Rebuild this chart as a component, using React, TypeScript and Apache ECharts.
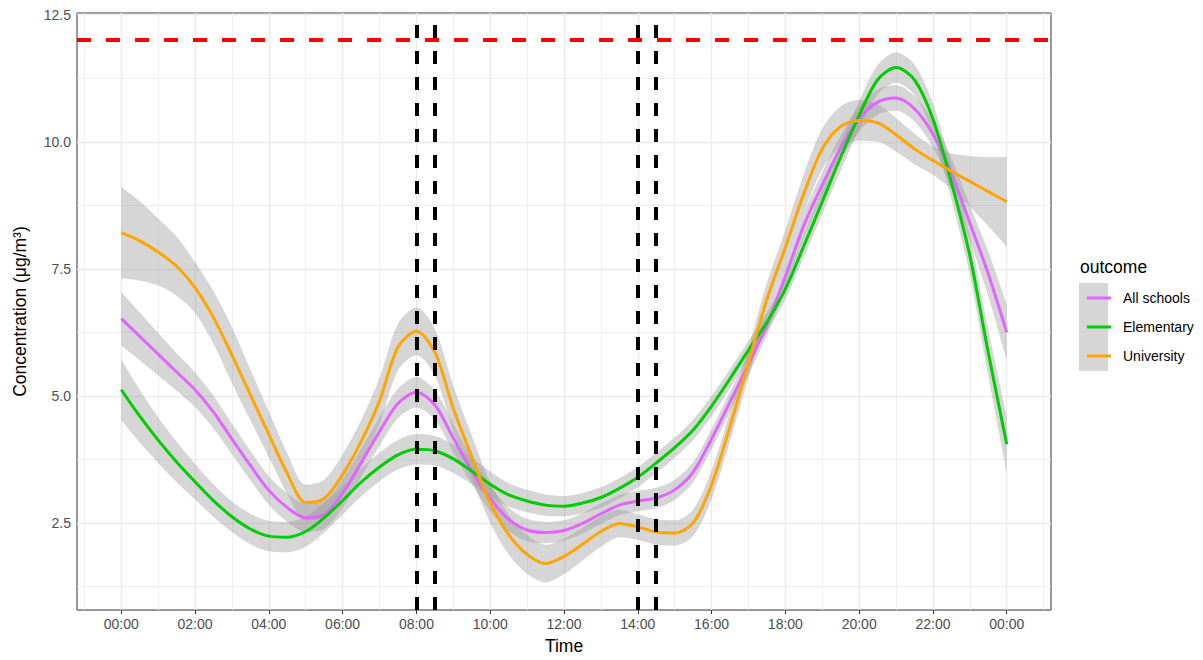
import React, { useEffect, useRef } from "react";
import * as echarts from "echarts";

// ---- data (every half hour) ----
const hours = [
  0, 0.5, 1, 1.5, 2, 2.5, 3, 3.5, 4, 4.5, 5, 5.5, 6, 6.5, 7, 7.5, 8, 8.5, 9, 9.5, 10, 10.5, 11, 11.5,
  12, 12.5, 13, 13.5, 14, 14.5, 15, 15.5, 16, 16.5, 17, 17.5, 18, 18.5, 19, 19.5, 20, 20.5, 21, 21.5,
  22, 22.5, 23, 23.5, 24,
];

const allSchools = [
  6.52, 6.17, 5.82, 5.47, 5.12, 4.68, 4.15, 3.63, 3.14, 2.8, 2.6, 2.66, 3.08, 3.68, 4.3, 4.85, 5.07, 4.82,
  4.17, 3.52, 2.98, 2.57, 2.36, 2.31, 2.35, 2.49, 2.68, 2.85, 2.93, 2.99, 3.15, 3.5, 4.15, 4.88, 5.62, 6.4,
  7.35, 8.35, 9.15, 9.88, 10.45, 10.78, 10.86, 10.65, 10.15, 9.38, 8.4, 7.4, 6.25,
];
const allSchoolsSe = [
  0.53, 0.47, 0.42, 0.37, 0.34, 0.32, 0.3, 0.29, 0.28, 0.28, 0.28, 0.28, 0.28, 0.28, 0.28, 0.29, 0.3, 0.29,
  0.28, 0.26, 0.25, 0.23, 0.22, 0.21, 0.2, 0.2, 0.2, 0.2, 0.2, 0.2, 0.2, 0.2, 0.2, 0.2, 0.2, 0.21,
  0.22, 0.24, 0.25, 0.25, 0.25, 0.25, 0.25, 0.25, 0.26, 0.3, 0.35, 0.44, 0.55,
];

const elementary = [
  5.12, 4.6, 4.13, 3.7, 3.31, 2.94, 2.62, 2.38, 2.24, 2.22, 2.33, 2.6, 2.94, 3.3, 3.6, 3.84, 3.95, 3.92,
  3.76, 3.52, 3.26, 3.05, 2.93, 2.85, 2.83, 2.89, 3.0, 3.18, 3.4, 3.68, 3.98, 4.33, 4.8, 5.34, 5.9, 6.45,
  7.1, 7.95, 8.82, 9.7, 10.52, 11.22, 11.46, 11.22, 10.45, 9.2, 7.76, 5.85, 4.05,
];
const elementarySe = [
  0.6, 0.52, 0.45, 0.4, 0.35, 0.32, 0.3, 0.3, 0.3, 0.3, 0.3, 0.29, 0.28, 0.28, 0.28, 0.29, 0.3, 0.29,
  0.28, 0.26, 0.25, 0.23, 0.22, 0.21, 0.2, 0.2, 0.2, 0.2, 0.2, 0.2, 0.2, 0.2, 0.2, 0.19, 0.18, 0.19,
  0.2, 0.22, 0.25, 0.27, 0.28, 0.29, 0.3, 0.3, 0.3, 0.33, 0.38, 0.46, 0.55,
];

const university = [
  8.21, 8.05, 7.83, 7.55, 7.13, 6.54, 5.8, 5.02, 4.24, 3.47, 2.9, 2.98, 3.45, 4.1, 4.9, 5.96, 6.27, 5.86,
  4.75, 3.8, 2.9, 2.27, 1.88, 1.7, 1.84, 2.08, 2.33, 2.49, 2.42, 2.32, 2.3, 2.5, 3.25, 4.4, 5.65, 6.9,
  7.92, 8.98, 9.86, 10.3, 10.42, 10.37, 10.14, 9.86, 9.63, 9.42, 9.22, 9.02, 8.82,
];
const universitySe = [
  0.9, 0.78, 0.66, 0.58, 0.5, 0.52, 0.55, 0.5, 0.45, 0.4, 0.35, 0.37, 0.4, 0.42, 0.45, 0.46, 0.47, 0.46,
  0.45, 0.42, 0.4, 0.39, 0.38, 0.37, 0.35, 0.32, 0.3, 0.27, 0.25, 0.25, 0.25, 0.26, 0.28, 0.29, 0.3, 0.32,
  0.35, 0.38, 0.4, 0.4, 0.4, 0.37, 0.33, 0.3, 0.28, 0.35, 0.5, 0.68, 0.88,
];

const groupNames = ["All schools", "Elementary", "University"];
const groupColors = ["#E066FF", "#00CD00", "#FFA500"];

const xTickHours = [0, 2, 4, 6, 8, 10, 12, 14, 16, 18, 20, 22, 24];
const xMinorHours = [-1, 1, 3, 5, 7, 9, 11, 13, 15, 17, 19, 21, 23, 25];
const yTicks = [2.5, 5, 7.5, 10, 12.5];
const yMinorTicks = [1.25, 3.75, 6.25, 8.75, 11.25];
const schoolTimes = [8, 8.5, 14, 14.5];
const threshold = 12;

const X_MIN = -1.2;
const X_MAX = 25.2;
const Y_MIN = 0.786;
const Y_MAX = 12.534;

const FONT = "'Liberation Sans', Arial, Helvetica, sans-serif";

function fmtHour(v: number): string {
  const h = ((Math.round(v) % 24) + 24) % 24;
  return String(h).padStart(2, "0") + ":00";
}

export default function App() {
  const ref = useRef<HTMLDivElement>(null);

  useEffect(() => {
    if (!ref.current) return;
    const chart = echarts.init(ref.current, null, { renderer: "svg" });

    const groups = [
      { name: groupNames[0], mean: allSchools, se: allSchoolsSe, color: groupColors[0] },
      { name: groupNames[1], mean: elementary, se: elementarySe, color: groupColors[1] },
      { name: groupNames[2], mean: university, se: universitySe, color: groupColors[2] },
    ];

    const gridMajor = { color: "#EBEBEB", width: 1.4, type: "solid" as const };
    const gridMinor = { color: "#EBEBEB", width: 0.8, type: "solid" as const };
    const SMOOTH = 0.3;

    const series: any[] = [];
    groups.forEach((g, gi) => {
      // data stored as [value, hour] so that stacking runs on the value (y) dimension
      const lower: any = {
        type: "line",
        name: g.name + " lower",
        stack: "band" + gi,
        encode: { x: 1, y: 0 },
        data: hours.map((h, i) => [g.mean[i] - g.se[i], h]),
        smooth: SMOOTH,
        symbol: "none",
        lineStyle: { opacity: 0, width: 0 },
        silent: true,
        z: 2,
      };
      if (gi === 0) {
        lower.markLine = {
          silent: true,
          symbol: ["none", "none"],
          label: { show: false },
          z: 1,
          animation: false,
          data: [
            ...xMinorHours.map((v) => ({ xAxis: v, lineStyle: gridMinor })),
            ...yMinorTicks.map((v) => ({ yAxis: v, lineStyle: gridMinor })),
            ...xTickHours.map((v) => ({ xAxis: v, lineStyle: gridMajor })),
            ...yTicks.map((v) => ({ yAxis: v, lineStyle: gridMajor })),
          ],
        };
      }
      if (gi === 1) {
        lower.markLine = {
          silent: true,
          symbol: ["none", "none"],
          label: { show: false },
          z: 10,
          animation: false,
          data: [
            ...schoolTimes.map((v) => ({
              xAxis: v,
              lineStyle: { color: "#000000", width: 4, type: [13, 13] },
            })),
            { yAxis: threshold, lineStyle: { color: "#FF0000", width: 4, type: [14, 15] } },
          ],
        };
      }
      series.push(lower);
      series.push({
        type: "line",
        name: g.name + " band",
        stack: "band" + gi,
        encode: { x: 1, y: 0 },
        data: hours.map((h, i) => [2 * g.se[i], h]),
        smooth: SMOOTH,
        symbol: "none",
        lineStyle: { opacity: 0, width: 0 },
        areaStyle: { color: "#999999", opacity: 0.4 },
        silent: true,
        z: 2,
      });
      series.push({
        type: "line",
        name: g.name,
        data: hours.map((h, i) => [h, g.mean[i]]),
        smooth: SMOOTH,
        symbol: "none",
        color: g.color,
        lineStyle: { color: g.color, width: 3 },
        silent: true,
        z: 2,
      });
    });

    const option: any = {
      animation: false,
      backgroundColor: "#FFFFFF",
      textStyle: { fontFamily: FONT },
      grid: {
        left: 77,
        right: 152,
        top: 13,
        bottom: 44,
        containLabel: false,
        show: true,
        backgroundColor: "#FFFFFF",
        borderColor: "#333333",
        borderWidth: 1,
      },
      xAxis: {
        type: "value",
        min: X_MIN,
        max: X_MAX,
        name: "Time",
        nameLocation: "middle",
        nameGap: 27,
        nameTextStyle: { fontSize: 17.5, color: "#000000", fontFamily: FONT },
        axisLine: { show: false },
        splitLine: { show: false },
        axisTick: {
          show: true,
          customValues: xTickHours,
          length: 4,
          lineStyle: { color: "#333333", width: 1 },
        },
        axisLabel: {
          customValues: xTickHours,
          formatter: (v: number) => fmtHour(v),
          fontSize: 14,
          color: "#4D4D4D",
          margin: 7,
          fontFamily: FONT,
        },
      },
      yAxis: {
        type: "value",
        min: Y_MIN,
        max: Y_MAX,
        name: "Concentration (μg/m³)",
        nameLocation: "middle",
        nameRotate: 90,
        nameGap: 48,
        nameTextStyle: { fontSize: 17.5, color: "#000000", fontFamily: FONT },
        axisLine: { show: false },
        splitLine: { show: false },
        axisTick: {
          show: true,
          customValues: yTicks,
          length: 4,
          lineStyle: { color: "#333333", width: 1 },
        },
        axisLabel: {
          customValues: yTicks,
          formatter: (v: number) => v.toFixed(1),
          fontSize: 14,
          color: "#4D4D4D",
          margin: 6,
          fontFamily: FONT,
        },
      },
      legend: {
        data: groupNames,
        orient: "vertical",
        left: 1082,
        top: 285,
        itemWidth: 24,
        itemHeight: 3,
        itemGap: 13,
        icon: "rect",
        selectedMode: false,
        z: 5,
        textStyle: {
          fontSize: 14,
          lineHeight: 16,
          color: "#000000",
          fontFamily: FONT,
          padding: [0, 0, 0, 7],
        },
      },
      graphic: [
        {
          type: "rect",
          z: 0,
          shape: { x: 1079, y: 283, width: 29, height: 88 },
          style: { fill: "#D6D6D6" },
          silent: true,
        },
        {
          type: "text",
          z: 1,
          x: 1080,
          y: 267,
          style: {
            text: "outcome",
            fontSize: 17.5,
            fontFamily: FONT,
            fill: "#000000",
            verticalAlign: "middle",
            align: "left",
          },
          silent: true,
        },
      ],
      series,
    };

    chart.setOption(option);
    return () => {
      chart.dispose();
    };
  }, []);

  return (
    <div
      ref={ref}
      style={{ position: "fixed", left: 0, top: 0, width: 1203, height: 660 }}
    />
  );
}
